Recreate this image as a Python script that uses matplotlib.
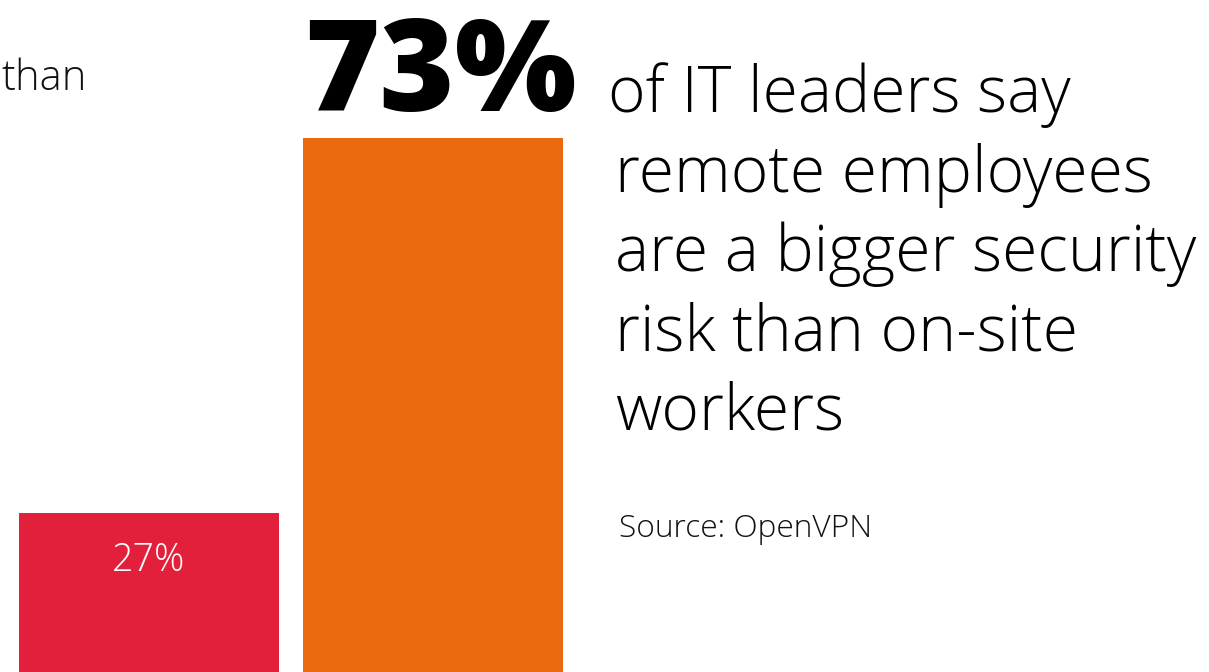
import matplotlib.pyplot as plt

# data
categories = ['on-site', 'remote']
values = [27, 73]
bar_colors = ['#E3203C', '#EB6A0F']
headline_lines = ['of IT leaders say', 'remote employees', 'are a bigger security',
                  'risk than on-site', 'workers']
source = 'Source: OpenVPN'
prev_text = 'than'

W, H = 1209, 672
fig = plt.figure(figsize=(W / 100, H / 100), dpi=100)
ax = fig.add_axes([0, 0, 1, 1])

# pixel scale: bars are 260px wide, centres 284px apart, 8.15px per percent,
# baseline sits 61px below the bottom edge of the image
px_x = 284.0
px_y = 595.0 / 73
ax.set_xlim(-149 / px_x, (W - 149) / px_x)
ax.set_ylim(61 / px_y, (H + 61) / px_y)
ax.axis('off')

x = list(range(len(categories)))
ax.bar(x, values, width=260 / px_x, color=bar_colors, align='center')

fam = ['Open Sans', 'DejaVu Sans']
fig.text(2 / W, 1 - 90 / H, prev_text, fontsize=30, family=fam, weight='light',
         color='#111111', va='baseline', ha='left')

# value labels
ax.text(x[0], values[0] - 58 / px_y, f'{values[0]}%', fontsize=27, family=fam,
        weight='light', color='white', ha='center', va='baseline')
ax.text(x[1] - 129 / px_x, values[1] + 27 / px_y, f'{values[1]}%', fontsize=92.5,
        family=fam, weight='heavy', color='black', ha='left', va='baseline')

for i, line in enumerate(headline_lines):
    xl = 608 if i == 0 else 615
    fig.text(xl / W, 1 - (112 + 79.5 * i) / H, line, fontsize=46.2, family=fam,
             weight='light', color='black', ha='left', va='baseline')

fig.text(619 / W, 1 - 537 / H, source, fontsize=22.8, family=fam, weight='light',
         color='#111111', ha='left', va='baseline')

fig.savefig('out.png', dpi=100)
